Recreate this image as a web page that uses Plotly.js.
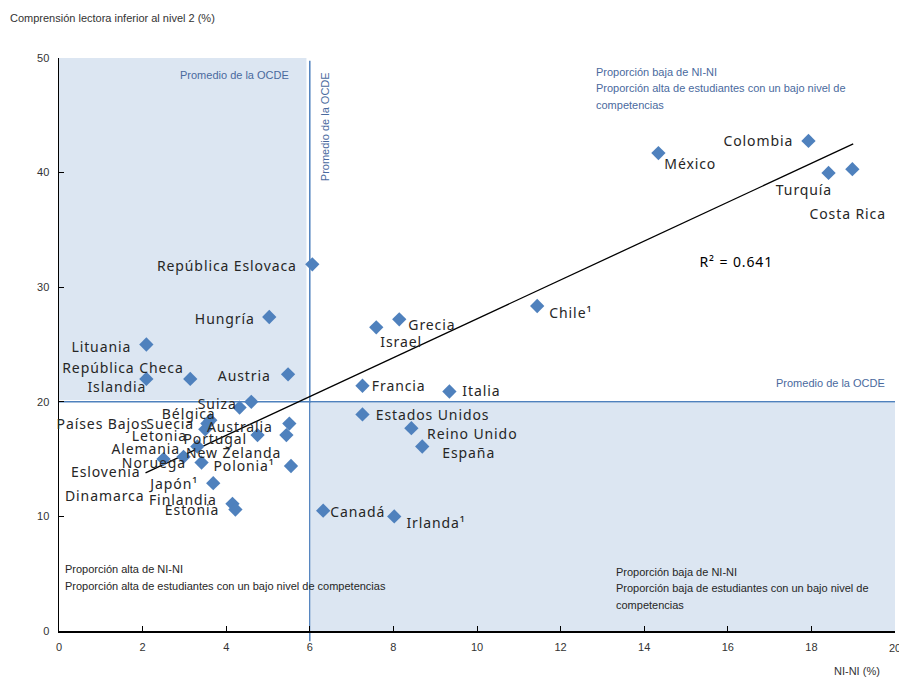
<!DOCTYPE html>
<html>
<head>
<meta charset="utf-8">
<script src="https://cdn.plot.ly/plotly-3.0.1.min.js"></script>
<style>html,body{margin:0;padding:0;background:#fff}#chart{width:899px;height:686px}</style>
</head>
<body>
<div id="chart"></div>
<script>
// ---- Data ----
var countries = ["Colombia","México","Turquía","Costa Rica","República Eslovaca","Chile¹","Hungría","Grecia","Israel","Lituania",
  "Austria","República Checa","Islandia","Francia","Italia","Estados Unidos","Reino Unido","España","Canadá","Irlanda¹",
  "Suiza","Bélgica","Países Bajos","Suecia","Australia","Letonia","Portugal","New Zelanda","Alemania","Eslovenia",
  "Noruega","Dinamarca","Polonia¹","Japón¹","Finlandia","Estonia"];
var neetPct = [17.93,14.34,18.41,18.98,6.06,11.44,5.03,8.14,7.59,2.09,
  5.48,3.14,2.09,7.26,9.34,7.26,8.43,8.69,6.32,8.02,
  4.60,4.32,3.55,3.62,5.51,3.50,4.75,5.44,3.31,2.98,
  2.50,3.41,5.55,3.69,4.15,4.22];
var lowReadingPct = [42.76,41.70,39.97,40.30,32.0,28.36,27.4,27.2,26.5,25.0,
  22.4,22.0,22.0,21.4,20.9,18.9,17.7,16.1,10.5,10.0,
  20.0,19.5,18.1,18.4,18.1,17.6,17.1,17.1,16.1,15.2,
  15.0,14.7,14.4,12.9,11.1,10.6];
// linear trend line as drawn in the reference (end points)
var trendX = [2.07, 19.0];
var trendY = [13.8, 42.5];
var oecdAvgNeet = 6;
var oecdAvgReading = 20;
var r2Text = "R² = 0.641";
var xTicks = [0,2,4,6,8,10,12,14,16,18];
var xTickLast = 20;
var yTicks = [0,10,20,30,40,50];
var noteTopRight = ["Proporción baja de NI-NI","Proporción alta de estudiantes con un bajo nivel de","competencias"];
var noteBottomLeft = ["Proporción alta de NI-NI","Proporción alta de estudiantes con un bajo nivel de competencias"];
var noteBottomRight = ["Proporción baja de NI-NI","Proporción baja de estudiantes con un bajo nivel de","competencias"];

// ---- Label placement (pixel offsets from each point) ----
var labelShift = {
  "Colombia":[-50,0],"México":[32,-10],"Turquía":[-25,-17],"Costa Rica":[-5,-44],"República Eslovaca":[-85,-1],
  "Chile¹":[34,-7],"Hungría":[-44,-1],"Grecia":[33,-5],"Israel":[25,-14],"Lituania":[-45,-2],
  "Austria":[-44,-1],"República Checa":[-67,11],"Islandia":[-29,-8],"Francia":[36,0],"Italia":[32,1],
  "Estados Unidos":[70,0],"Reino Unido":[61,-5],"España":[46,-6],"Canadá":[35,-1],"Irlanda¹":[42,-6],
  "Suiza":[-34,-2],"Bélgica":[-51,-6],"Países Bajos":[-105,0],"Suecia":[-40,-3],"Australia":[-49,-3],
  "Letonia":[-46,-6],"Portugal":[-42,-3],"New Zelanda":[-53,-17],"Alemania":[-51,-2],"Eslovenia":[-78,-15],
  "Noruega":[-10,-3],"Dinamarca":[-97,-33],"Polonia¹":[-47,0],"Japón¹":[-40,0],"Finlandia":[-49,4],"Estonia":[-43,0]
};

var blue = "#4F81BD";
var noteBlue = "#4A6A9E";
var narrow = "'Liberation Sans Narrow', 'Arial Narrow', 'Liberation Sans', Arial, sans-serif";
var labelFont = "'Noto Sans', 'Open Sans', sans-serif";

var traces = [
  {x:trendX, y:trendY, mode:"lines", line:{color:"#000", width:1.3}, hoverinfo:"skip", showlegend:false},
  {x:neetPct, y:lowReadingPct, text:countries, mode:"markers", type:"scatter",
   marker:{symbol:"diamond", size:11, color:blue}, showlegend:false}
];

var annotations = countries.map(function(c,i){
  var s = labelShift[c];
  return {x:neetPct[i], y:lowReadingPct[i], xref:"x", yref:"y", text:c, showarrow:false,
    xshift:s[0], yshift:s[1], font:{family:labelFont, size:14, color:"#262626"}};
});
var nLabels = annotations.length;

annotations.push(
  {xref:"x", yref:"y", x:15.38, y:32.2, xanchor:"left", yanchor:"middle",
   text:r2Text, showarrow:false, font:{family:labelFont, size:14, color:"#000"}}
);
var nSpaced = annotations.length;

function addNote(lines, x, y, color){
  lines.forEach(function(t, k){
    annotations.push({xref:"x", yref:"y", x:x, y:y, yshift:-16.5*k, xanchor:"left", yanchor:"middle",
      text:t, showarrow:false, font:{family:narrow, size:11, color:color}});
  });
}
addNote(noteTopRight, 12.8, 48.78, noteBlue);
addNote(noteBottomLeft, 0.1, 5.41, "#262626");
addNote(noteBottomRight, 13.28, 5.15, "#262626");

annotations.push(
  {xref:"paper", yref:"paper", x:-0.061, y:1.07, xanchor:"left", yanchor:"middle",
   text:"Comprensión lectora inferior al nivel 2 (%)", showarrow:false, font:{family:narrow, size:11, color:"#333"}},
  {xref:"paper", yref:"paper", x:0.985, y:-0.07, xanchor:"right", yanchor:"middle",
   text:"NI-NI (%)", showarrow:false, font:{family:narrow, size:11, color:"#333"}},
  {xref:"x", yref:"paper", x:xTickLast, y:-0.03, xanchor:"center", yanchor:"middle",
   text:String(xTickLast), showarrow:false, font:{family:narrow, size:11, color:"#333"}},
  {xref:"x", yref:"y", x:oecdAvgNeet-0.45, y:48.5, xanchor:"right", yanchor:"middle",
   text:"Promedio de la OCDE", showarrow:false, font:{family:narrow, size:11, color:noteBlue}},
  {xref:"x", yref:"y", x:oecdAvgNeet+0.35, y:44, xanchor:"center", yanchor:"middle", textangle:-90,
   text:"Promedio de la OCDE", showarrow:false, font:{family:narrow, size:11, color:noteBlue}},
  {xref:"paper", yref:"y", x:0.99, y:oecdAvgReading+0.95, xanchor:"right", yanchor:"bottom",
   text:"Promedio de la OCDE", showarrow:false, font:{family:narrow, size:11, color:noteBlue}}
);

var layout = {
  width:899, height:686,
  margin:{l:59, r:4, t:58, b:55},
  paper_bgcolor:"#fff", plot_bgcolor:"#fff",
  showlegend:false,
  xaxis:{range:[0,20], tickvals:xTicks, ticks:"inside", ticklen:5, tickcolor:"#000", ticklabelstandoff:5,
    showline:true, linecolor:"#000", linewidth:1.5, showgrid:false, zeroline:false,
    tickfont:{family:narrow, size:11, color:"#333"}},
  yaxis:{range:[0,50], tickvals:yTicks, ticks:"inside", ticklen:5, tickcolor:"#000", ticklabelstandoff:6,
    showline:true, linecolor:"#000", linewidth:1.5, showgrid:false, zeroline:false,
    tickfont:{family:narrow, size:11, color:"#333"}},
  shapes:[
    {type:"rect", xref:"x", yref:"y", x0:0, x1:oecdAvgNeet-0.08, y0:oecdAvgReading+0.15, y1:50,
     fillcolor:"#DCE6F2", line:{width:0}, layer:"below"},
    {type:"rect", xref:"x", yref:"y", x0:oecdAvgNeet+0.02, x1:20, y0:0, y1:oecdAvgReading-0.1,
     fillcolor:"#DCE6F2", line:{width:0}, layer:"below"},
    {type:"line", xref:"x", yref:"paper", x0:oecdAvgNeet, x1:oecdAvgNeet, y0:-0.018, y1:0.995,
     line:{color:blue, width:1.5}, layer:"below"},
    {type:"line", xref:"x", yref:"y", x0:0, x1:20, y0:oecdAvgReading, y1:oecdAvgReading,
     line:{color:blue, width:1.5}, layer:"below"}
  ],
  annotations:annotations
};

Plotly.newPlot("chart", traces, layout, {displayModeBar:false, staticPlot:true}).then(function(gd){
  gd.querySelectorAll("g.annotation").forEach(function(g){
    var idx = +g.getAttribute("data-index");
    if (idx < nSpaced) {
      var t = g.querySelector("text");
      if (t) t.style.letterSpacing = "0.9px";
    }
  });
});
</script>
</body>
</html>
